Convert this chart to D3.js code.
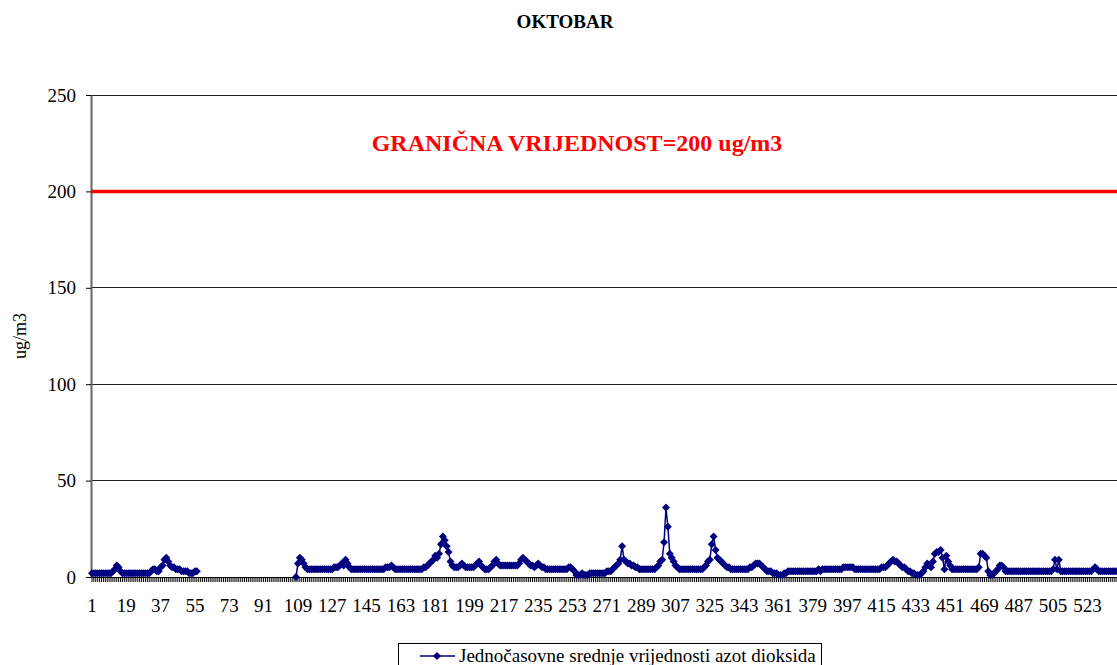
<!DOCTYPE html>
<html><head><meta charset="utf-8">
<script src="https://cdn.jsdelivr.net/npm/d3@7"></script>
<style>body{margin:0;background:#fff;overflow:hidden}svg{display:block}</style>
</head><body>
<script>
const title = "OKTOBAR";
const limitLabel = "GRANIČNA VRIJEDNOST=200 ug/m3";
const limitValue = 200;
const yLabel = "ug/m3";
const seriesName = "Jednočasovne srednje vrijednosti azot dioksida";
const yTicks = [0, 50, 100, 150, 200, 250];
const labelStep = 18;
const N = null;
const values = [
 2,2,2,2,2,2,2,2,2,2,
 2,3,4,6,5,3,2,2,2,2,
 2,2,2,2,2,2,2,2,2,2,
 2,3,4,4,3,3,5,6,9,10,
 8,6,5,5,4,4,4,3,3,3,
 3,2,2,2,3,3,
 N,N,N,N,N,N,N,N,N,N,N,N,N,N,N,N,N,N,N,N,N,N,N,N,N,N,N,N,N,N,N,N,N,N,N,N,N,N,N,N,N,N,N,N,N,N,N,N,N,N,N,
 0,7,10,
 9,7,5,4,4,4,4,4,4,4,
 4,4,4,4,4,4,4,5,5,5,
 6,7,6,9,7,5,4,4,4,4,
 4,4,4,4,4,4,4,4,4,4,
 4,4,4,4,5,5,5,6,5,4,
 4,4,4,4,4,4,4,4,4,4,
 4,4,4,4,5,5,6,7,8,9,
 11,10,12,17,21,19,16,13,8,6,
 5,5,5,6,7,6,5,5,5,5,
 5,6,7,8,6,5,4,4,4,5,
 6,8,9,7,6,6,6,6,6,6,
 6,6,6,6,7,9,10,9,8,7,
 6,6,5,6,7,6,5,5,4,4,
 4,4,4,4,4,4,4,4,4,4,
 5,5,4,3,1,1,1,2,1,1,
 1,2,2,2,2,2,2,2,2,2,
 3,3,3,4,5,6,7,9,16,9,
 8,7,7,6,6,5,5,4,4,4,
 4,4,4,4,4,4,5,6,8,9,
 18,36,26,12,10,8,6,5,4,4,
 4,4,4,4,4,4,4,4,4,4,
 4,5,6,8,9,17,21,14,10,9,
 8,7,6,5,5,4,4,4,4,4,
 4,4,4,4,4,5,5,6,7,7,
 7,6,5,4,3,3,3,2,2,2,
 1,1,1,2,2,3,3,3,3,3,
 3,3,3,3,3,3,3,3,3,3,
 3,4,3,4,4,4,4,4,4,4,
 4,4,4,4,5,5,5,5,5,5,
 4,4,4,4,4,4,4,4,4,4,
 4,4,4,4,5,5,5,6,7,8,
 9,8,8,7,6,5,5,4,3,3,
 2,2,1,1,1,2,3,5,7,6,
 5,8,12,13,13,14,10,4,11,8,
 6,4,4,4,4,4,4,4,4,4,
 4,4,4,4,4,5,12,12,11,10,
 3,1,1,2,3,4,6,6,5,3,
 3,3,3,3,3,3,3,3,3,3,
 3,3,3,3,3,3,3,3,3,3,
 3,3,3,3,4,9,4,9,3,3,
 3,3,3,3,3,3,3,3,3,3,
 3,3,3,3,3,4,5,4,3,3,
 3,3,3,3,3,3,3,3
];
const categories = values.map((v, k) => k + 1);

const W = 1117, H = 665;
const svg = d3.select("body").append("svg").attr("width", W).attr("height", H);
const serif = "'Liberation Serif','Times New Roman',serif";
const navy = "#000080";

const plotLeft = 91, plotTop = 95, plotBottom = 577, plotRight = W;
const x = d3.scaleBand().domain(categories).range([plotLeft, plotRight]);
const y = d3.scaleLinear().domain([0, 250]).range([plotBottom, plotTop]);
const cx = i => x(i) + x.bandwidth() / 2;

// gridlines
svg.append("g").selectAll("line").data(yTicks.filter(t => t > 0 && t !== limitValue)).join("line")
  .attr("x1", plotLeft).attr("x2", plotRight).attr("y1", d => y(d)).attr("y2", d => y(d))
  .attr("stroke", "#222").attr("stroke-width", 1).attr("shape-rendering", "crispEdges");

// y axis
const ya = svg.append("g").attr("transform", `translate(${plotLeft},0)`)
  .call(d3.axisLeft(y).tickValues(yTicks).tickSize(5).tickSizeOuter(0).tickPadding(10));
ya.select(".domain").attr("stroke", "#666").attr("stroke-width", 2);
ya.selectAll(".tick line").attr("stroke", "#000");
ya.selectAll("text").attr("font-family", serif).attr("font-size", 19).attr("fill", "#000");

// x axis
const xa = svg.append("g").attr("transform", `translate(0,${plotBottom})`)
  .call(d3.axisBottom(x).tickValues(categories).tickSize(5).tickSizeOuter(0).tickPadding(17)
    .tickFormat(d => (d - 1) % labelStep === 0 ? d : ""));
xa.select(".domain").attr("stroke", "#000").attr("stroke-width", 1);
xa.selectAll(".tick line").attr("stroke", "#000").attr("stroke-width", 1);
xa.selectAll("text").attr("font-family", serif).attr("font-size", 19).attr("fill", "#000");

// limit line
svg.append("line").attr("x1", plotLeft).attr("x2", plotRight)
  .attr("y1", y(limitValue)).attr("y2", y(limitValue))
  .attr("stroke", "#ff0000").attr("stroke-width", 3.5);

svg.append("text").attr("x", 577).attr("y", 151).attr("text-anchor", "middle")
  .attr("font-family", serif).attr("font-weight", "bold").attr("font-size", 24)
  .attr("fill", "#ff0000").text(limitLabel);

// series
const pts = values.map((v, k) => ({i: categories[k], v}));
const line = d3.line().defined(d => d.v !== null).x(d => cx(d.i)).y(d => y(d.v));
svg.append("path").datum(pts).attr("d", line).attr("fill", "none")
  .attr("stroke", navy).attr("stroke-width", 1.5);
const marker = d3.symbol().type(d3.symbolSquare).size(32);
svg.append("g").selectAll("path").data(pts.filter(d => d.v !== null)).join("path")
  .attr("transform", d => `translate(${cx(d.i)},${y(d.v)}) rotate(45)`)
  .attr("d", marker).attr("fill", navy);

// title
svg.append("text").attr("x", 565).attr("y", 28).attr("text-anchor", "middle")
  .attr("font-family", serif).attr("font-weight", "bold").attr("font-size", 19)
  .text(title);

// y label
svg.append("text").attr("transform", `translate(26,${(plotTop + plotBottom) / 2}) rotate(-90)`)
  .attr("text-anchor", "middle").attr("font-family", serif).attr("font-size", 18)
  .text(yLabel);

// legend
const lg = svg.append("g");
lg.append("rect").attr("x", 398.5).attr("y", 643.5).attr("width", 423).attr("height", 40)
  .attr("fill", "#fff").attr("stroke", "#000");
lg.append("line").attr("x1", 420).attr("x2", 455).attr("y1", 656).attr("y2", 656)
  .attr("stroke", navy).attr("stroke-width", 1.5);
lg.append("path").attr("transform", "translate(437,656) rotate(45)").attr("d", marker).attr("fill", navy);
lg.append("text").attr("x", 459).attr("y", 662).attr("font-family", serif).attr("font-size", 19)
  .text(seriesName);
</script>
</body></html>
